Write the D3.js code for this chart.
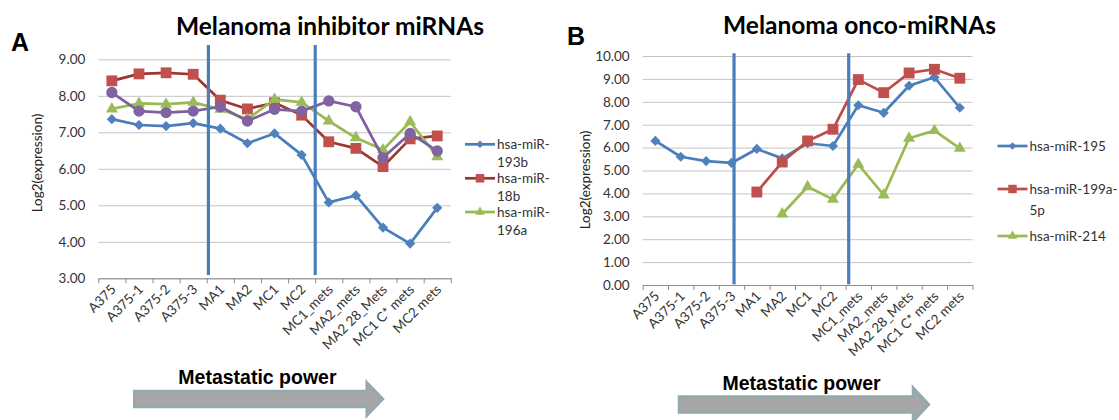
<!DOCTYPE html>
<html>
<head>
<meta charset="utf-8">
<script src="https://cdn.jsdelivr.net/npm/d3@7"></script>
<style>
body{margin:0;background:#fff}
svg{display:block}
</style>
</head>
<body>
<script>
// sample names on the x axis (both panels)
var categories = ['A375','A375-1','A375-2','A375-3','MA1','MA2','MC1','MC2','MC1_mets','MA2_mets','MA2 28_Mets','MC1 C* mets','MC2 mets'];

// panel A - melanoma inhibitor miRNAs, log2(expression)
var mir193b = [7.36,7.20,7.17,7.25,7.10,6.70,6.97,6.38,5.08,5.27,4.39,3.95,4.93];
var mir18b  = [8.41,8.60,8.63,8.59,7.88,7.64,7.81,7.47,6.74,6.56,6.06,6.82,6.90];
var mir196a = [7.64,7.79,7.77,7.82,7.63,7.36,7.90,7.82,7.31,6.85,6.52,7.29,6.33];
var mirA4   = [8.09,7.58,7.54,7.58,7.70,7.31,7.63,7.58,7.86,7.70,6.30,6.97,6.49]; // 4th series, not in legend
var ticksA  = [3,4,5,6,7,8,9];
var dividersA = [4.06, 8.0];   // hand drawn separators, in category units

// panel B - melanoma onco-miRNAs
var mir195  = [6.29,5.60,5.41,5.33,5.94,5.53,6.19,6.07,7.85,7.52,8.70,9.07,7.74];
var mir199a = [null,null,null,null,4.06,5.37,6.29,6.80,8.97,8.40,9.26,9.42,9.03];
var mir214  = [null,null,null,null,null,3.10,4.29,3.74,5.27,3.93,6.41,6.74,5.97];
var ticksB  = [0,1,2,3,4,5,6,7,8,9,10];
var dividersB = [3.6, 8.12];

var W = 1119, H = 420;
var svg = d3.select('body').append('svg').attr('width', W).attr('height', H);

var tickFont = 'Lato, "Open Sans", sans-serif';

function markerPath(kind, size) {
    if (kind == 'diamond') return d3.symbol().type(d3.symbolSquare).size(size)();
    if (kind == 'square') return d3.symbol().type(d3.symbolSquare).size(size)();
    if (kind == 'triangle') return d3.symbol().type(d3.symbolTriangle).size(size)();
    return d3.symbol().type(d3.symbolCircle).size(size)();
}
var markerSize = {diamond: 52, square: 118, triangle: 62, circle: 100};
var legendSize = {diamond: 28, square: 72, triangle: 40, circle: 60};

function drawPanel(p) {
    var g = svg.append('g');
    var x = d3.scaleBand().domain(categories).range([p.left, p.right]);
    var xi = d3.scaleLinear().domain([0, categories.length]).range([p.left, p.right]);
    var y = d3.scaleLinear().domain(p.domain).range([p.bottom, p.top]);
    var bw = x.bandwidth();

    // gridlines
    g.append('g')
        .attr('transform', `translate(${p.left},0)`)
        .call(d3.axisLeft(y).tickValues(p.ticks).tickSize(-(p.right - p.left)).tickFormat(''))
        .call(s => s.select('.domain').remove())
        .selectAll('line').attr('stroke', '#c4c4c4').attr('stroke-width', 1);

    // y tick labels
    g.append('g')
        .attr('transform', `translate(${p.left},0)`)
        .call(d3.axisLeft(y).tickValues(p.ticks).tickSize(0).tickPadding(13).tickFormat(d3.format('.2f')))
        .call(s => s.select('.domain').remove())
        .selectAll('text')
        .attr('font-family', tickFont).attr('font-size', 13.5).attr('fill', '#333');

    // x axis line + tick marks at category boundaries
    g.append('g')
        .attr('transform', `translate(0,${p.bottom})`)
        .call(d3.axisBottom(xi).tickValues(d3.range(categories.length + 1)).tickSize(5).tickFormat('').tickSizeOuter(0))
        .call(s => s.select('.domain').attr('stroke', '#8c8c8c'))
        .selectAll('line').attr('stroke', '#8c8c8c');

    // x labels, rotated
    g.selectAll('.xl').data(categories).enter().append('text')
        .attr('transform', d => `translate(${x(d) + bw / 2 + 5},${p.bottom + 12}) rotate(-45)`)
        .attr('text-anchor', 'end')
        .attr('font-family', tickFont).attr('font-size', 13.5).attr('fill', '#333')
        .text(d => d);

    // series
    p.series.forEach(function(s) {
        var pts = s.values.map((v, i) => ({c: categories[i], v: v}));
        var line = d3.line().defined(d => d.v != null)
            .x(d => x(d.c) + bw / 2).y(d => y(d.v));
        g.append('path').attr('d', line(pts))
            .attr('fill', 'none').attr('stroke', s.line).attr('stroke-width', 2.7)
            .attr('stroke-linejoin', 'round');
        g.selectAll(null).data(pts.filter(d => d.v != null)).enter().append('path')
            .attr('d', markerPath(s.marker, markerSize[s.marker]))
            .attr('transform', d => `translate(${x(d.c) + bw / 2},${y(d.v)})` + (s.marker == 'diamond' ? ' rotate(45)' : ''))
            .attr('fill', s.color);
    });

    // blue separators
    g.selectAll('.div').data(p.dividers).enter().append('line')
        .attr('x1', d => xi(d)).attr('x2', d => xi(d))
        .attr('y1', y(p.divTop)).attr('y2', y(p.divBottom))
        .attr('stroke', '#4a7ebb').attr('stroke-width', 3.2);

    // legend
    var lg = g.append('g').attr('transform', `translate(${p.legX},0)`);
    p.series.filter(s => s.label).forEach(function(s, i) {
        var ly = p.legY[i];
        lg.append('line').attr('x1', 0).attr('x2', 30).attr('y1', ly).attr('y2', ly)
            .attr('stroke', s.line).attr('stroke-width', 2.7);
        lg.append('path').attr('d', markerPath(s.marker, legendSize[s.marker]))
            .attr('transform', `translate(15,${ly})` + (s.marker == 'diamond' ? ' rotate(45)' : ''))
            .attr('fill', s.color);
        s.label.forEach(function(t, j) {
            lg.append('text').attr('x', 32).attr('y', ly + 4.5 + j * p.legGap)
                .attr('font-family', tickFont).attr('font-size', 13.5).attr('fill', '#333')
                .text(t);
        });
    });

    // y axis title
    svg.append('text')
        .attr('transform', `translate(${p.yTitleX},${p.yTitleY}) rotate(-90)`)
        .attr('text-anchor', 'middle')
        .attr('font-family', tickFont).attr('font-size', 13.5).attr('fill', '#222')
        .text('Log2(expression)');

    // chart title and panel letter
    svg.append('text').attr('x', p.titleX).attr('y', p.titleY)
        .attr('text-anchor', 'middle')
        .attr('font-family', 'Lato, "Open Sans", sans-serif').attr('font-weight', 'bold').attr('font-size', 24.5)
        .attr('fill', '#000').text(p.title);
    svg.append('text').attr('x', p.letterX).attr('y', p.letterY)
        .attr('font-family', '"Liberation Sans", Arial, sans-serif').attr('font-weight', 'bold').attr('font-size', 25)
        .attr('fill', '#000').text(p.letter);

    // metastatic power arrow
    var a = p.arrow;
    svg.append('path')
        .attr('d', `M${a.x0},${a.cy - 8}L${a.hx},${a.cy - 8}L${a.hx},${a.cy - 17}L${a.tip},${a.cy}L${a.hx},${a.cy + 17}L${a.hx},${a.cy + 8}L${a.x0},${a.cy + 8}Z`)
        .attr('fill', '#a6a6a6').attr('stroke', '#8fabaf').attr('stroke-width', 2.5);
    svg.append('text').attr('x', a.textX).attr('y', a.textY)
        .attr('font-family', '"Liberation Sans", Arial, sans-serif').attr('font-weight', 'bold').attr('font-size', 19.5)
        .attr('fill', '#000').text('Metastatic power');
}

drawPanel({
    left: 98.3, right: 450.8, top: 59.3, bottom: 278.3,
    domain: [3, 9], ticks: ticksA,
    dividers: dividersA, divTop: 9.39, divBottom: 3.09,
    series: [
        {values: mir193b, color: '#4f81bd', line: '#4a7ebb', marker: 'diamond', label: ['hsa-miR-', '193b']},
        {values: mir18b, color: '#c0504d', line: '#9b3631', marker: 'square', label: ['hsa-miR-', '18b']},
        {values: mir196a, color: '#9bbb59', line: '#98b954', marker: 'triangle', label: ['hsa-miR-', '196a']},
        {values: mirA4, color: '#8064a2', line: '#7d60a0', marker: 'circle', label: null}
    ],
    legX: 465, legY: [144.3, 178.3, 212], legGap: 18,
    yTitleX: 42, yTitleY: 163,
    title: 'Melanoma inhibitor miRNAs', titleX: 330, titleY: 35,
    letter: 'A', letterX: 11, letterY: 51,
    arrow: {x0: 134.3, hx: 366.7, tip: 383, cy: 399, textX: 178.3, textY: 384}
});

drawPanel({
    left: 642.7, right: 972.5, top: 56, bottom: 285,
    domain: [0, 10], ticks: ticksB,
    dividers: dividersB, divTop: 10.12, divBottom: 0.03,
    series: [
        {values: mir195, color: '#4f81bd', line: '#4a7ebb', marker: 'diamond', label: ['hsa-miR-195']},
        {values: mir199a, color: '#c0504d', line: '#be4b48', marker: 'square', label: ['hsa-miR-199a-', '5p']},
        {values: mir214, color: '#9bbb59', line: '#98b954', marker: 'triangle', label: ['hsa-miR-214']}
    ],
    legX: 997.5, legY: [146, 189, 236], legGap: 21,
    yTitleX: 590, yTitleY: 180,
    title: 'Melanoma onco-miRNAs', titleX: 859.5, titleY: 34,
    letter: 'B', letterX: 567, letterY: 45,
    arrow: {x0: 679, hx: 913, tip: 929, cy: 404.5, textX: 722.5, textY: 390}
});
</script>
</body>
</html>
